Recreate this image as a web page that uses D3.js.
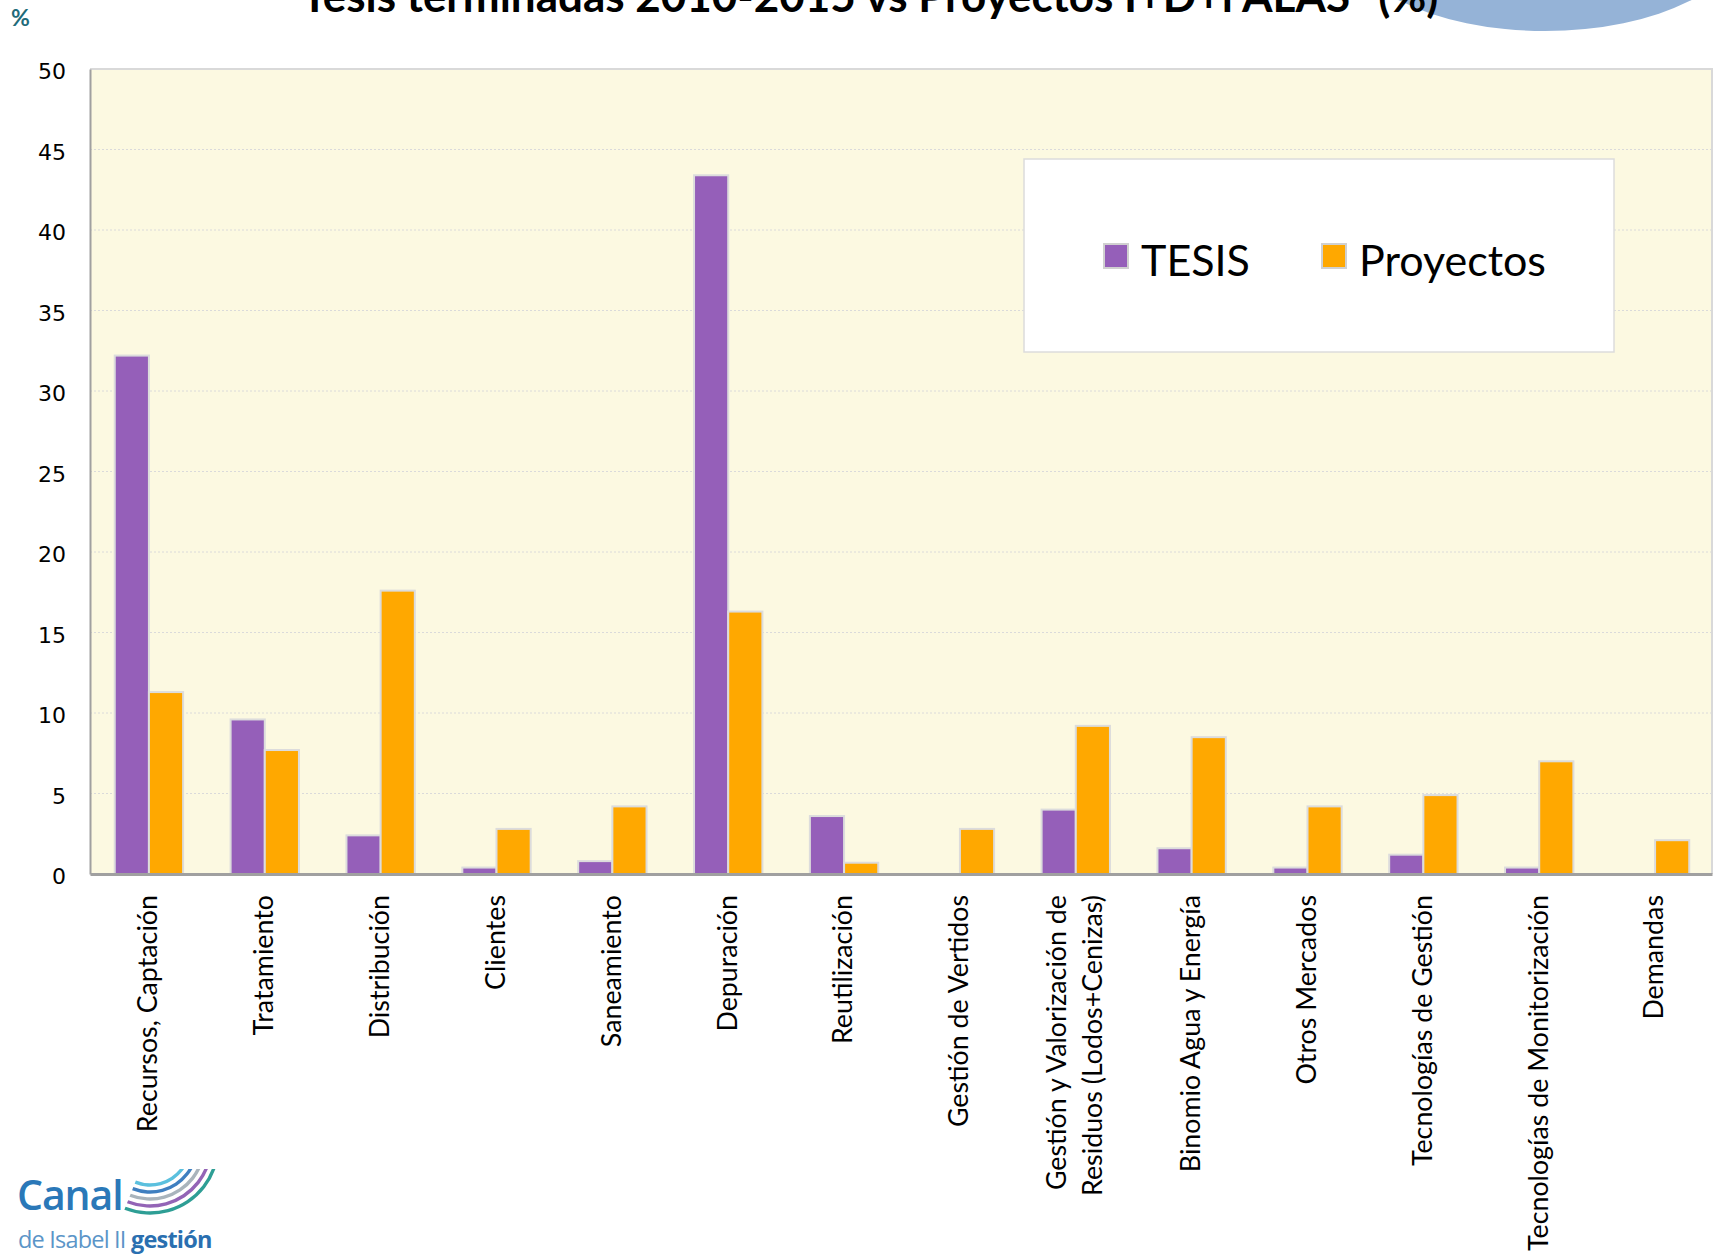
<!DOCTYPE html>
<html>
<head>
<meta charset="utf-8">
<script src="https://cdn.jsdelivr.net/npm/d3@7"></script>
<style>
  html, body { margin: 0; padding: 0; background: #fff; }
  svg { display: block; }
</style>
</head>
<body>
<div id="chart"></div>
<script>
// datos (%)
const categories = [
  'Recursos, Captación', 'Tratamiento', 'Distribución', 'Clientes', 'Saneamiento',
  'Depuración', 'Reutilización', 'Gestión de Vertidos',
  'Gestión y Valorización de|Residuos (Lodos+Cenizas)',
  'Binomio Agua y Energía', 'Otros Mercados', 'Tecnologías de Gestión',
  'Tecnologías de Monitorización', 'Demandas'
];
const seriesNames = ['TESIS', 'Proyectos'];
const tesis = [32.2, 9.6, 2.4, 0.4, 0.8, 43.4, 3.6, 0, 4.0, 1.6, 0.4, 1.2, 0.4, 0];
const proyectos = [11.3, 7.7, 17.6, 2.8, 4.2, 16.3, 0.7, 2.8, 9.2, 8.5, 4.2, 4.9, 7.0, 2.1];
const yTicks = [0, 5, 10, 15, 20, 25, 30, 35, 40, 45, 50];
const title = 'Tesis terminadas 2010-2015 vs Proyectos I+D+i ALAS"  (%)';

const W = 1715, H = 1257;
const plot = { left: 90, right: 1712, top: 69, bottom: 874 };
const colors = { TESIS: '#955FB9', Proyectos: '#FFA800' };

const svg = d3.select('#chart').append('svg')
  .attr('width', W)
  .attr('height', H);

// elipse azul arriba a la derecha
svg.append('ellipse')
  .attr('cx', 1545).attr('cy', -72)
  .attr('rx', 205).attr('ry', 103)
  .attr('fill', '#95B3D7');

// título (cortado arriba, como en el original)
svg.append('text')
  .attr('x', 870).attr('y', 12)
  .attr('text-anchor', 'middle')
  .attr('font-family', 'Lato')
  .attr('font-weight', 'bold')
  .attr('font-size', 44)
  .attr('fill', '#000')
  .text(title);

svg.append('text')
  .attr('x', 11).attr('y', 26)
  .attr('font-family', 'Lato')
  .attr('font-weight', 'bold')
  .attr('font-size', 23)
  .attr('fill', '#1F6B7A')
  .text('%');

const x = d3.scaleBand()
  .domain(categories)
  .range([plot.left, plot.right])
  .paddingInner(0.41)
  .paddingOuter(0.205);

const xSub = d3.scaleBand()
  .domain(seriesNames)
  .range([0, x.bandwidth()]);

const y = d3.scaleLinear()
  .domain([0, 50])
  .range([plot.bottom, plot.top]);

// fondo
svg.append('rect')
  .attr('x', plot.left).attr('y', plot.top)
  .attr('width', plot.right - plot.left)
  .attr('height', plot.bottom - plot.top)
  .attr('fill', '#FCF9E1');

// rejilla
svg.append('g')
  .selectAll('line')
  .data(yTicks.filter(d => d > 0 && d < 50))
  .join('line')
  .attr('x1', plot.left).attr('x2', plot.right)
  .attr('y1', d => y(d)).attr('y2', d => y(d))
  .attr('stroke', '#DADADA')
  .attr('stroke-width', 1)
  .attr('stroke-dasharray', '2,2');

// borde superior y derecho
svg.append('path')
  .attr('d', `M${plot.left},${plot.top}H${plot.right}V${plot.bottom}`)
  .attr('fill', 'none')
  .attr('stroke', '#D9D9D9')
  .attr('stroke-width', 2);

// eje Y
const yAxis = svg.append('g')
  .attr('transform', `translate(${plot.left},0)`)
  .call(d3.axisLeft(y).tickValues(yTicks).tickSize(0).tickPadding(24));
yAxis.select('.domain').attr('stroke', '#A0A0A0').attr('stroke-width', 2);
yAxis.selectAll('text')
  .attr('font-family', 'DejaVu Sans')
  .attr('font-size', 22)
  .attr('dy', '0.45em')
  .attr('fill', '#000');

// barras
const rows = categories.map((c, i) => ({ cat: c, values: [
  { key: 'TESIS', value: tesis[i] },
  { key: 'Proyectos', value: proyectos[i] }
]}));

const groups = svg.append('g')
  .selectAll('g')
  .data(rows)
  .join('g')
  .attr('transform', d => `translate(${x(d.cat)},0)`);

groups.selectAll('rect')
  .data(d => d.values.filter(v => v.value > 0))
  .join('rect')
  .attr('x', d => xSub(d.key) + 1)
  .attr('y', d => y(d.value))
  .attr('width', xSub.bandwidth())
  .attr('height', d => y(0) - y(d.value))
  .attr('fill', d => colors[d.key])
  .attr('stroke', '#DCDCDC')
  .attr('stroke-width', 2);

// eje X
const xAxis = svg.append('g')
  .attr('transform', `translate(0,${plot.bottom})`)
  .call(d3.axisBottom(x).tickSize(0).tickFormat(''));
xAxis.select('.domain').attr('stroke', '#A0A0A0').attr('stroke-width', 3);

const labels = svg.append('g')
  .selectAll('text')
  .data(categories)
  .join('text')
  .attr('transform', d => `translate(${x(d) + x.bandwidth() / 2},${plot.bottom + 21}) rotate(-90)`)
  .attr('text-anchor', 'end')
  .attr('font-family', 'Lato')
  .attr('font-size', 26.8)
  .attr('fill', '#000');

labels.each(function (d) {
  const lines = d.split('|');
  const t = d3.select(this);
  lines.forEach((ln, k) => {
    t.append('tspan')
      .attr('x', 0)
      .attr('y', (k - (lines.length - 1) / 2) * 36)
      .attr('dy', '0.35em')
      .text(ln);
  });
});

// leyenda
const leg = svg.append('g');
leg.append('rect')
  .attr('x', 1024).attr('y', 159)
  .attr('width', 590).attr('height', 193)
  .attr('fill', '#fff')
  .attr('stroke', '#DCDCDC')
  .attr('stroke-width', 1.5);

const legX = [1104, 1322];
seriesNames.forEach((s, i) => {
  leg.append('rect')
    .attr('x', legX[i]).attr('y', 244)
    .attr('width', 24).attr('height', 24)
    .attr('fill', colors[s])
    .attr('stroke', '#D0D0D0')
    .attr('stroke-width', 2);
  leg.append('text')
    .attr('x', legX[i] + 37).attr('y', 276)
    .attr('font-family', 'Lato')
    .attr('font-size', 43)
    .attr('fill', '#000')
    .text(s);
});

// logo Canal de Isabel II gestión
const logo = svg.append('g');
svg.append('clipPath').attr('id', 'logoClip')
  .append('rect').attr('x', 100).attr('y', 1169).attr('width', 140).attr('height', 80);
const arcs = logo.append('g').attr('clip-path', 'url(#logoClip)');
const arcColors = ['#5BC0DE', '#3F7FC0', '#A9B4BC', '#9364B6', '#2E9E95'];
arcColors.forEach((c, i) => {
  const r = 40 + i * 7;
  const arc = d3.arc()
    .innerRadius(r - 1.7).outerRadius(r + 1.7)
    .startAngle(Math.PI * 0.3).endAngle(Math.PI * 1.12);
  arcs.append('path')
    .attr('transform', 'translate(150,1145)')
    .attr('d', arc())
    .attr('fill', c);
});
logo.append('text')
  .attr('x', 17).attr('y', 1210)
  .attr('font-family', 'Open Sans')
  .attr('font-weight', 600)
  .attr('font-size', 41)
  .attr('fill', '#2A78B8')
  .attr('letter-spacing', -1.1)
  .text('Canal');
const sub = logo.append('text')
  .attr('x', 18).attr('y', 1248)
  .attr('font-family', 'Open Sans')
  .attr('font-size', 23.5)
  .attr('letter-spacing', -0.8);
sub.append('tspan').attr('fill', '#5B95C8').text('de Isabel II ');
sub.append('tspan').attr('fill', '#2A6FB0').attr('font-weight', 'bold').text('gestión');
</script>
</body>
</html>
